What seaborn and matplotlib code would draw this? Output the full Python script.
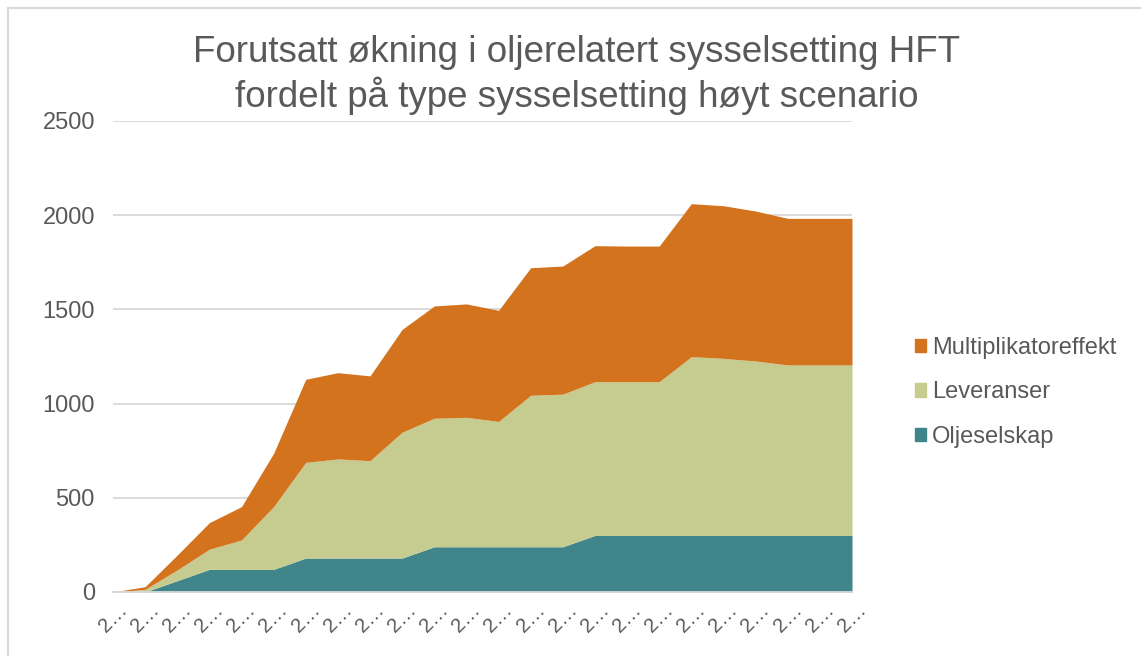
import matplotlib
matplotlib.use("Agg")
import matplotlib.pyplot as plt
import matplotlib.patches as mpatches
import numpy as np
import pandas as pd
import seaborn as sns

# data (24 years, labels truncated to "2…" in the original)
years = list(range(24))
tick_labels = ["2\u2026"] * 24
oljeselskap = [0, 0, 60, 120, 120, 120, 180, 180, 180, 180, 240, 240,
               240, 240, 240, 300, 300, 300, 300, 300, 300, 300, 300, 300]
leveranser = [0, 14, 57, 107, 156, 333, 508, 526, 517, 668, 682, 687,
              665, 804, 810, 816, 816, 816, 949, 940, 926, 905, 905, 905]
multiplikator = [0, 14, 79, 141, 177, 283, 441, 458, 450, 546, 596, 602,
                 590, 677, 680, 722, 720, 720, 812, 810, 796, 778, 778, 778]
series_names = ["Oljeselskap", "Leveranser", "Multiplikatoreffekt"]

df = pd.DataFrame({"year": years, "Oljeselskap": oljeselskap,
                   "Leveranser": leveranser, "Multiplikatoreffekt": multiplikator})

sns.set_style("white")
plt.rcParams["font.family"] = ["Liberation Sans", "DejaVu Sans"]
grey = "#595959"
colors = ["#40858A", "#C6CC8F", "#D3731E"]

fig = plt.figure(figsize=(11.41, 6.56), dpi=100)
ax = fig.add_axes([0.099, 0.0976, 0.6477, 0.718])

ax.stackplot(df["year"], [df[n] for n in series_names], colors=colors,
             labels=series_names, linewidth=0)

ax.set_xlim(0, 23)
ax.set_ylim(0, 2500)
ax.set_yticks(range(0, 2501, 500))
ax.yaxis.grid(True, color="#d9d9d9", linewidth=1.3)
ax.set_axisbelow(True)
ax.set_xticks(df["year"])
ax.set_xticklabels(tick_labels, rotation=45, ha="center", va="top")
ax.tick_params(axis="x", length=6, width=1.3, color="#d9d9d9",
               labelsize=14.5, labelcolor=grey, pad=0)
ax.tick_params(axis="y", length=0, labelsize=17, labelcolor=grey, pad=13)
sns.despine(ax=ax, left=True, top=True, right=True)
ax.spines["bottom"].set_color("#d9d9d9")
ax.spines["bottom"].set_linewidth(1.3)

fig.suptitle("Forutsatt økning i oljerelatert sysselsetting HFT\nfordelt på type sysselsetting høyt scenario",
             x=0.5057, y=0.946, fontsize=26.5, color=grey, linespacing=1.2)

handles = [mpatches.Patch(color=c) for c in colors][::-1]
fig.legend(handles, series_names[::-1], loc="center left",
           bbox_to_anchor=(0.783, 0.402), frameon=False, fontsize=17,
           labelcolor=grey, handlelength=0.5, handleheight=0.5,
           handletextpad=0.25, labelspacing=0.95)

fig.patches.append(mpatches.Rectangle((8 / 1141, -0.1), 1.2, 1.1 - 8 / 656,
                                      transform=fig.transFigure, fill=False,
                                      edgecolor="#d9d9d9", linewidth=1.5))

fig.savefig("out.png", dpi=100)
